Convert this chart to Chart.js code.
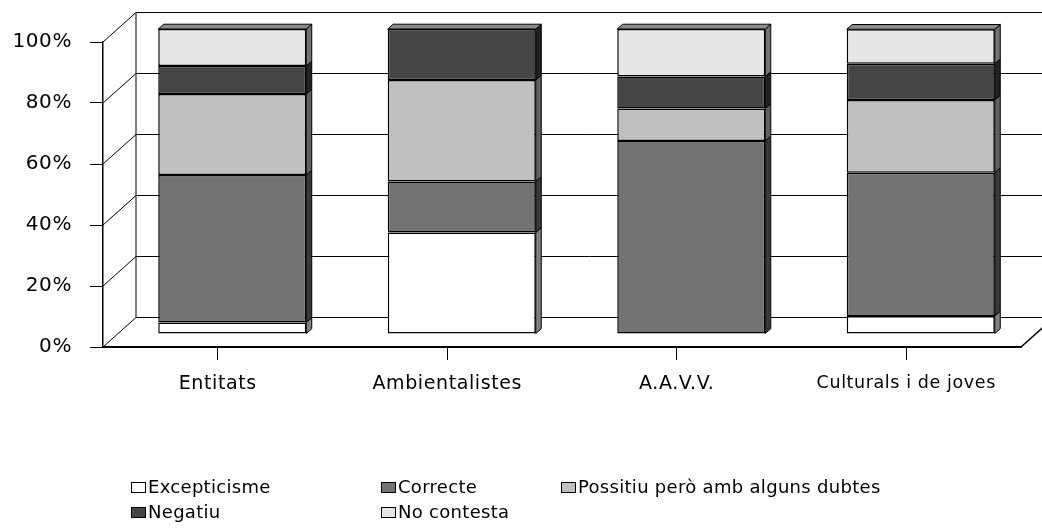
<!DOCTYPE html>
<html><head><meta charset="utf-8">
<script src="https://cdn.jsdelivr.net/npm/chart.js@4"></script>
<style>
html,body{margin:0;padding:0;background:#fff;}
#wrap{position:relative;width:1042px;height:529px;overflow:hidden;}
#c{position:absolute;left:0;top:0;}
.lg{position:absolute;font-family:"DejaVu Sans";font-size:18px;letter-spacing:0.3px;color:#000;white-space:nowrap;line-height:20px;height:20px;}
.lg i{position:absolute;left:0;top:5px;width:13px;height:9px;border:1px solid #000;}
.lg span{position:absolute;left:17px;top:0;}
</style></head>
<body><div id="wrap"><canvas id="c" width="1042" height="529"></canvas></div>
<script>
const categories = ['Entitats', 'Ambientalistes', 'A.A.V.V.', 'Culturals i de joves'];
const seriesNames = ['Excepticisme', 'Correcte', 'Possitiu però amb alguns dubtes', 'Negatiu', 'No contesta'];
const excepticisme = [3.8, 33.3, 0, 5.9];
const correcte = [48.3, 16.7, 63.3, 47.0];
const possitiu = [26.6, 33.3, 10.6, 23.8];
const negatiu = [9.2, 16.7, 10.5, 11.9];
const noContesta = [12.1, 0, 15.6, 11.3];
const yTickValues = [0, 20, 40, 60, 80, 100];

const fills = ['#FFFFFF', '#737373', '#C0C0C0', '#454545', '#E6E6E6'];
const sides = ['#808080', '#393939', '#606060', '#222222', '#737373'];
const seriesValues = [excepticisme, correcte, possitiu, negatiu, noContesta];

const DEPTH = {dx: 33, dy: -29.5};   // wall depth
const BAR_OFF = {dx: 14.5, dy: -13}; // bar position in depth
const BAR_D = {dx: 5.5, dy: -4.8};   // bar thickness

const spacing = {
  id: 'spacing',
  beforeDraw(chart) { chart.ctx.letterSpacing = '0.6px'; }
};

const threeD = {
  id: 'threeD',
  beforeDatasetsDraw(chart) {
    const ctx = chart.ctx, a = chart.chartArea, y = chart.scales.y;
    ctx.save();
    ctx.strokeStyle = '#000';
    ctx.lineWidth = 1;
    const L = a.left, R = a.right;
    yTickValues.forEach(v => {
      const yf = y.getPixelForValue(v);
      const yb = yf + DEPTH.dy;
      ctx.beginPath();
      ctx.moveTo(L + DEPTH.dx, yb);
      ctx.lineTo(R + DEPTH.dx, yb);
      ctx.stroke();
      ctx.beginPath();
      ctx.moveTo(L, yf);
      ctx.lineTo(L + DEPTH.dx, yb);
      ctx.stroke();
    });
    ctx.beginPath();
    ctx.moveTo(L + DEPTH.dx, y.getPixelForValue(100) + DEPTH.dy);
    ctx.lineTo(L + DEPTH.dx, y.getPixelForValue(0) + DEPTH.dy);
    ctx.stroke();
    ctx.lineWidth = 1.5;
    ctx.beginPath();
    ctx.moveTo(R, y.getPixelForValue(0));
    ctx.lineTo(R + DEPTH.dx, y.getPixelForValue(0) + DEPTH.dy);
    ctx.stroke();
    ctx.restore();
    ctx.save();
    ctx.translate(BAR_OFF.dx, BAR_OFF.dy);
  },
  afterDatasetsDraw(chart) {
    const ctx = chart.ctx;
    const n = chart.data.labels.length;
    for (let i = 0; i < n; i++) {
      let topIdx = -1;
      chart.data.datasets.forEach((ds, d) => {
        const el = chart.getDatasetMeta(d).data[i];
        if (!el) return;
        const h = Math.abs(el.base - el.y);
        if (h < 0.5) return;
        topIdx = d;
        const xr = el.x + el.width / 2;
        ctx.beginPath();
        ctx.moveTo(xr, el.y);
        ctx.lineTo(xr + BAR_D.dx, el.y + BAR_D.dy);
        ctx.lineTo(xr + BAR_D.dx, el.base + BAR_D.dy);
        ctx.lineTo(xr, el.base);
        ctx.closePath();
        ctx.fillStyle = sides[d];
        ctx.fill();
        ctx.lineWidth = 1;
        ctx.strokeStyle = '#000';
        ctx.stroke();
      });
      if (topIdx >= 0) {
        const el = chart.getDatasetMeta(topIdx).data[i];
        const xl = el.x - el.width / 2, xr = el.x + el.width / 2;
        ctx.beginPath();
        ctx.moveTo(xl, el.y);
        ctx.lineTo(xl + BAR_D.dx, el.y + BAR_D.dy);
        ctx.lineTo(xr + BAR_D.dx, el.y + BAR_D.dy);
        ctx.lineTo(xr, el.y);
        ctx.closePath();
        ctx.fillStyle = '#8c8c8c';
        ctx.fill();
        ctx.strokeStyle = '#000';
        ctx.stroke();
      }
    }
    ctx.restore();
  }
};

const datasets = seriesNames.map((name, k) => ({
  label: name,
  data: seriesValues[k],
  backgroundColor: fills[k],
  borderColor: '#000',
  borderWidth: 1.5,
  borderSkipped: false,
  barPercentage: 0.645,
  categoryPercentage: 1,
  clip: false
}));

new Chart(document.getElementById('c'), {
  type: 'bar',
  data: {labels: categories, datasets},
  options: {
    responsive: false,
    devicePixelRatio: 1,
    animation: false,
    layout: {padding: {top: 42, right: 21, left: 0, bottom: 0}},
    plugins: {legend: {display: false}, tooltip: {enabled: false}},
    scales: {
      x: {
        stacked: true,
        afterFit(s) { s.height = 529 - 347; },
        grid: {display: true, drawOnChartArea: false, drawTicks: true, tickLength: 13, offset: false, color: '#000', lineWidth: 1},
        border: {display: true, color: '#000', width: 2},
        ticks: {
          color: '#000', padding: 13, maxRotation: 0, autoSkip: false,
          font: (c) => ({family: 'DejaVu Sans', size: c.index === 3 ? 17.5 : 19})
        }
      },
      y: {
        stacked: true,
        min: 0, max: 100,
        afterFit(s) { s.width = 103; },
        afterBuildTicks(s) { s.ticks = yTickValues.map(v => ({value: v})); },
        grid: {display: true, drawOnChartArea: false, drawTicks: true, tickLength: 13, color: '#000', lineWidth: 1},
        border: {display: true, color: '#000', width: 1.5},
        ticks: {
          color: '#000', padding: 18,
          font: {family: 'DejaVu Sans', size: 20},
          callback: (v) => v + '%'
        }
      }
    }
  },
  plugins: [spacing, threeD]
});

const legendPos = [[131, 477], [381, 477], [561, 477], [131, 502], [381, 502]];
const wrap = document.getElementById('wrap');
seriesNames.forEach((name, k) => {
  const d = document.createElement('div');
  d.className = 'lg';
  d.style.left = legendPos[k][0] + 'px';
  d.style.top = legendPos[k][1] + 'px';
  const b = document.createElement('i');
  b.style.background = fills[k];
  const s = document.createElement('span');
  s.textContent = name;
  d.appendChild(b); d.appendChild(s);
  wrap.appendChild(d);
});
</script>
</body></html>
